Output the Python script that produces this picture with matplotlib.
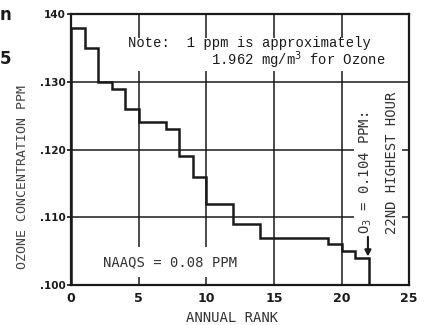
import numpy as np
import matplotlib
matplotlib.use("Agg")
import matplotlib.pyplot as plt

# ozone hourly maxima, annual rank 1..22 (ppm)
rank_edges = list(range(0, 23))
ppm = [.138, .135, .130, .129, .126, .124, .124, .123, .119, .116, .112,
       .112, .109, .109, .107, .107, .107, .107, .107, .106, .105, .104]
xticks = [0, 5, 10, 15, 20, 25]
yticks = [.100, .110, .120, .130, .140]
ylabels = [".100", ".110", ".120", ".130", "140"]

mono = "DejaVu Sans Mono"
courier = "Liberation Mono"
ink = "#1a1a1a"

fig = plt.figure(figsize=(4.28, 3.25), dpi=100)
ax = fig.add_axes([0.166, 0.123, 0.790, 0.834])

ax.stairs(ppm, rank_edges, color=ink, lw=1.8, zorder=2)

ax.set_xlim(0, 25)
ax.set_ylim(.100, .140)
ax.set_xticks(xticks)
ax.set_yticks(yticks)
ax.set_yticklabels(ylabels)
ax.grid(True, color=ink, lw=1.1, zorder=1)
ax.set_axisbelow(True)
for s in ax.spines.values():
    s.set_linewidth(1.6)
    s.set_color(ink)
ax.tick_params(axis="x", length=0, pad=5, labelsize=9)
ax.tick_params(axis="y", length=3, width=1.1, pad=1, labelsize=7.5)
for lab in ax.get_xticklabels() + ax.get_yticklabels():
    lab.set_fontweight("bold")
    lab.set_color(ink)

ax.set_xlabel("ANNUAL RANK", family=mono, fontsize=10, color="#333333")
ax.xaxis.set_label_coords(0.476, -0.095)
ax.set_ylabel("OZONE CONCENTRATION PPM", family=mono, fontsize=9.5, color="#444444")
ax.yaxis.set_label_coords(-0.125, 0.40)

ax.text(4.2, .1342, "Note:  1 ppm is approximately\n          1.962 mg/m$^3$ for Ozone",
        family=courier, fontsize=10, color=ink, ha="left", va="center",
        linespacing=0.95,
        bbox=dict(facecolor="white", edgecolor="none", pad=0.5), zorder=3)

ax.text(2.35, .1034, "NAAQS = 0.08 PPM", family=mono, fontsize=10, color="#333333",
        ha="left", va="center",
        bbox=dict(facecolor="white", edgecolor="none", pad=6), zorder=3)

ax.text(22.75, .1180, "O$_3$ = 0.104 PPM:\n22ND HIGHEST HOUR", family=mono,
        fontsize=10, color="#333333", rotation=90, ha="center", va="center",
        multialignment="left", linespacing=2.0,
        bbox=dict(facecolor="white", edgecolor="none", pad=2), zorder=3)

ax.annotate("", xy=(21.95, .1042), xytext=(21.95, .1071),
            arrowprops=dict(arrowstyle="-|>", color=ink, lw=1.5,
                            mutation_scale=9, shrinkA=0, shrinkB=0),
            zorder=5)

# clipped text from the neighbouring page content
fig.text(0.0, 0.955, "n", fontsize=12, fontweight="bold", color=ink, va="center")
fig.text(0.0, 0.82, "5", fontsize=12, fontweight="bold", color=ink, va="center")

fig.savefig("out.png", dpi=100, facecolor="white")
